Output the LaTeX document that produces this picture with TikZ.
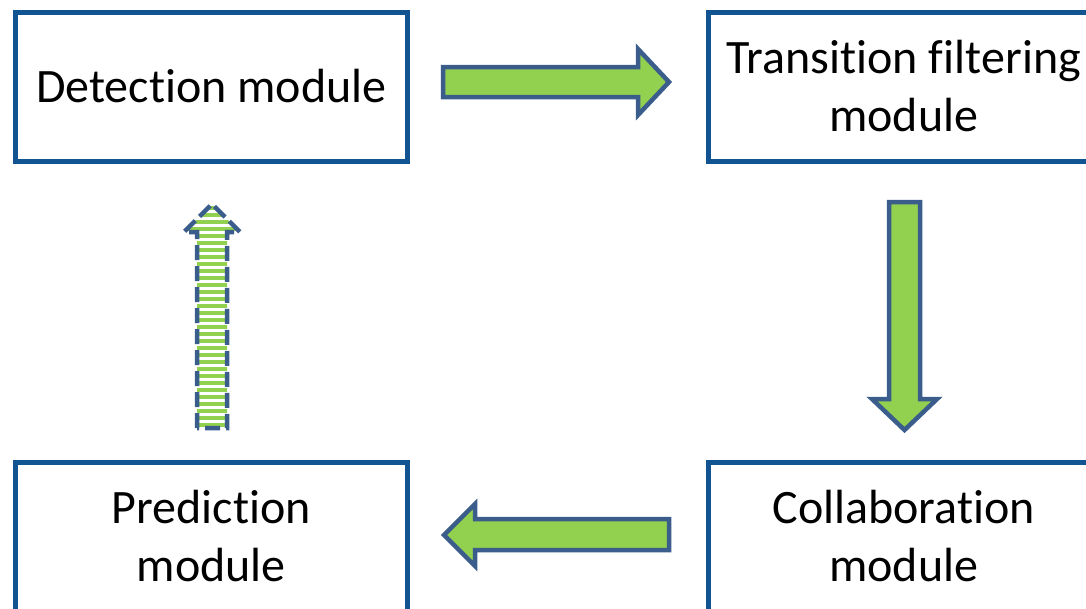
\documentclass[tikz,border=0pt]{standalone}
\usepackage{fontspec}
\setmainfont{Carlito}[Ligatures={NoCommon,NoContextual,NoRequired},RawFeature={-liga;-clig;-calt;-dlig}]
\definecolor{boxblue}{RGB}{18,83,146}
\definecolor{arrblue}{RGB}{58,93,140}
\definecolor{agreen}{RGB}{146,208,80}
\newcommand{\nolig}{\kern0pt{}}
\begin{document}
\begin{tikzpicture}[x=1pt,y=-1pt,
  module/.style={draw=boxblue,line width=5pt,minimum width=391.5pt,minimum height=149pt,
    inner sep=0pt,align=center,font=\fontsize{48}{58}\selectfont},
  blockarrow/.style={draw=arrblue,line width=4.5pt,fill=agreen,line join=miter},
  dasharrow/.style={draw=arrblue,line width=4.5pt,dash pattern=on 15pt off 6pt,line join=miter}]
\useasboundingbox (0,0) rectangle (1086,608);
\clip (0,0) rectangle (1086,608);
\node[module] (det) at (211.25,86.5) {Detect\nolig ion module};
\node[module] (tra) at (903.75,86.5) {Transit\nolig ion f\nolig ilt\nolig ering\\module};
\node[module] (pre) at (211.25,536.5) {Predict\nolig ion\\module};
\node[module] (col) at (903.75,536.5) {Collaborat\nolig ion\\module};
% right arrow
\path[blockarrow] (443,67) -- (638,67) -- (638,49) -- (669,82) -- (638,115) -- (638,97) -- (443,97) -- cycle;
% down arrow
\path[blockarrow] (889,202) -- (920,202) -- (920,399) -- (937,399) -- (904.5,430) -- (872,399) -- (889,399) -- cycle;
% left arrow
\path[blockarrow] (669,519) -- (475,519) -- (475,504) -- (444,535) -- (475,566) -- (475,550) -- (669,550) -- cycle;
% up arrow (dashed, striped)
\begin{scope}
  \clip (197,428) -- (197,232) -- (184,232) -- (212,204) -- (240,232) -- (227,232) -- (227,428) -- cycle;
  \foreach \yy in {206,213,...,430} \fill[agreen] (180,\yy) rectangle (245,\yy+3.5);
\end{scope}
\path[dasharrow] (197,428) -- (197,232) -- (184,232) -- (212,204) -- (240,232) -- (227,232) -- (227,428) -- cycle;
\end{tikzpicture}
\end{document}
